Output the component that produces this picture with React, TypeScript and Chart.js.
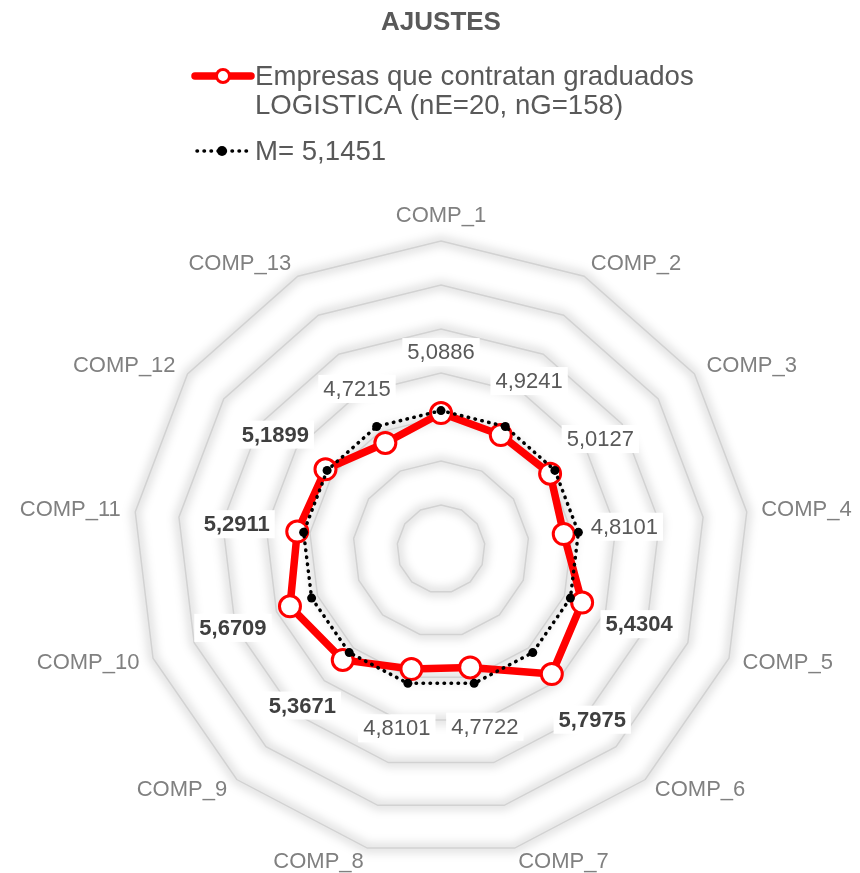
import React, { useEffect, useRef } from 'react';
import { Chart, registerables } from 'chart.js';

Chart.register(...registerables);

// ---------- data ----------
const titleText = 'AJUSTES';
const categories = [
  'COMP_1', 'COMP_2', 'COMP_3', 'COMP_4', 'COMP_5', 'COMP_6', 'COMP_7',
  'COMP_8', 'COMP_9', 'COMP_10', 'COMP_11', 'COMP_12', 'COMP_13',
];
const companySeriesLines = ['Empresas que contratan graduados', 'LOGISTICA (nE=20, nG=158)'];
const companyValues = [
  5.0886, 4.9241, 5.0127, 4.8101, 5.4304, 5.7975, 4.7722,
  4.8101, 5.3671, 5.6709, 5.2911, 5.1899, 4.7215,
];
const meanLabel = 'M= 5,1451';
const meanReference = 5.1451;
const meanValues = [
  5.1451, 5.1451, 5.1451, 5.1451, 5.1451, 5.1451, 5.1451,
  5.1451, 5.1451, 5.1451, 5.1451, 5.1451, 5.1451,
];
const scaleMin = 2;
const scaleMax = 9;
const scaleStep = 1;

// ---------- styling ----------
const FONT = "'Liberation Sans', Arial, Helvetica, sans-serif";
const RED = '#ff0000';
const TEXT_GRAY = '#595959';
const TEXT_DARK = '#3f3f3f';
const LABEL_GRAY = '#808080';

const fmt = (v: number) => v.toFixed(4).replace('.', ',');

const ringGlowPlugin = {
  id: 'ringGlow',
  beforeDraw(chart: any) {
    const scale = chart.scales.r;
    if (!scale) return;
    const ctx = chart.ctx;
    const n = chart.data.labels.length;
    ctx.save();
    ctx.filter = 'blur(5px)';
    ctx.strokeStyle = 'rgba(0,0,0,0.13)';
    ctx.lineWidth = 9;
    ctx.lineJoin = 'round';
    scale.ticks.forEach((t: any, idx: number) => {
      if (idx === 0) return;
      ctx.beginPath();
      for (let i = 0; i < n; i++) {
        const p = scale.getPointPositionForValue(i, t.value);
        if (i === 0) ctx.moveTo(p.x, p.y);
        else ctx.lineTo(p.x, p.y);
      }
      ctx.closePath();
      ctx.stroke();
    });
    ctx.restore();
  },
};

const labelsPlugin = {
  id: 'customLabels',
  afterDatasetsDraw(chart: any) {
    const scale = chart.scales.r;
    const ctx = chart.ctx;
    const n = chart.data.labels.length;
    ctx.save();
    // category labels
    ctx.font = `22px ${FONT}`;
    ctx.fillStyle = LABEL_GRAY;
    for (let i = 0; i < n; i++) {
      const p = scale.getPointPosition(i, scale.drawingArea + 14.5);
      const deg = Math.round((scale.getIndexAngle(i) * 180) / Math.PI) % 360;
      let align: CanvasTextAlign = 'center';
      if (deg !== 0 && deg !== 180) align = deg < 180 ? 'left' : 'right';
      let base: CanvasTextBaseline = 'middle';
      if (deg === 0) base = 'bottom';
      if (deg === 180) base = 'top';
      ctx.textAlign = align;
      ctx.textBaseline = base;
      ctx.fillText(chart.data.labels[i], p.x, p.y);
    }
    // value labels for company series
    const values = chart.data.datasets[0].data as number[];
    ctx.textAlign = 'center';
    ctx.textBaseline = 'middle';
    for (let i = 0; i < n; i++) {
      const v = values[i];
      const bold = v > meanReference;
      ctx.font = `${bold ? 'bold ' : ''}22px ${FONT}`;
      const txt = fmt(v);
      const w = ctx.measureText(txt).width;
      const r = scale.getDistanceFromCenterForValue(v) + 61;
      const p = scale.getPointPosition(i, r);
      ctx.fillStyle = '#ffffff';
      ctx.fillRect(p.x - w / 2 - 5, p.y - 14, w + 10, 28);
      ctx.fillStyle = bold ? TEXT_DARK : TEXT_GRAY;
      ctx.fillText(txt, p.x, p.y + 1);
    }
    ctx.restore();
  },
  afterDraw(chart: any) {
    const ctx = chart.ctx;
    ctx.save();
    // company legend entry
    ctx.strokeStyle = RED;
    ctx.lineWidth = 7.5;
    ctx.lineCap = 'round';
    ctx.beginPath();
    ctx.moveTo(195, 76);
    ctx.lineTo(251, 76);
    ctx.stroke();
    ctx.beginPath();
    ctx.arc(223, 76, 6.5, 0, Math.PI * 2);
    ctx.fillStyle = '#ffffff';
    ctx.fill();
    ctx.lineWidth = 3;
    ctx.stroke();
    ctx.font = `27.6px ${FONT}`;
    ctx.fillStyle = TEXT_GRAY;
    ctx.textAlign = 'left';
    ctx.textBaseline = 'alphabetic';
    ctx.fillText(companySeriesLines[0], 255, 85);
    ctx.fillText(companySeriesLines[1], 255, 114);
    // mean legend entry
    ctx.strokeStyle = '#000000';
    ctx.lineWidth = 3.5;
    ctx.lineCap = 'round';
    ctx.setLineDash([0.5, 6.5]);
    ctx.beginPath();
    ctx.moveTo(197, 151);
    ctx.lineTo(249, 151);
    ctx.stroke();
    ctx.setLineDash([]);
    ctx.beginPath();
    ctx.arc(222, 151, 5, 0, Math.PI * 2);
    ctx.fillStyle = '#000000';
    ctx.fill();
    ctx.fillStyle = TEXT_GRAY;
    ctx.fillText(meanLabel, 255, 160);
    ctx.restore();
  },
};

export default function App() {
  const canvasRef = useRef<HTMLCanvasElement | null>(null);

  useEffect(() => {
    if (!canvasRef.current) return;
    const chart = new Chart(canvasRef.current, {
      type: 'radar',
      data: {
        labels: categories,
        datasets: [
          {
            label: companySeriesLines.join(' '),
            data: companyValues,
            borderColor: RED,
            borderWidth: 7.5,
            borderJoinStyle: 'round',
            pointRadius: 10.5,
            pointHoverRadius: 10.5,
            pointBorderWidth: 3,
            pointBackgroundColor: '#ffffff',
            pointBorderColor: RED,
            fill: false,
            order: 1,
          },
          {
            label: meanLabel,
            data: meanValues,
            borderColor: '#000000',
            borderWidth: 3.5,
            borderDash: [0.5, 6.5],
            borderCapStyle: 'round',
            pointRadius: 4.5,
            pointHoverRadius: 4.5,
            pointBorderWidth: 0,
            pointBackgroundColor: '#000000',
            fill: false,
            order: 0,
          },
        ],
      },
      options: {
        responsive: true,
        maintainAspectRatio: false,
        animation: false,
        devicePixelRatio: 1,
        layout: { padding: { left: 132, right: 110, top: 0, bottom: 15 } },
        elements: { line: { tension: 0 } },
        scales: {
          r: {
            min: scaleMin,
            max: scaleMax,
            startAngle: 0,
            ticks: { display: false, stepSize: scaleStep },
            grid: { color: '#d2d2d2', lineWidth: 1.5 },
            angleLines: { display: false },
            pointLabels: { display: false },
          },
        },
        plugins: {
          legend: { display: false },
          tooltip: { enabled: false },
          title: {
            display: true,
            text: titleText,
            color: TEXT_GRAY,
            font: { family: FONT, size: 26, weight: 'bold', lineHeight: 1.2 },
            padding: { top: 7, bottom: 202 },
          },
        },
      },
      plugins: [ringGlowPlugin, labelsPlugin],
    } as any);
    return () => chart.destroy();
  }, []);

  return (
    <div style={{ position: 'absolute', left: 0, top: 0, width: 860, height: 873, background: '#ffffff' }}>
      <canvas ref={canvasRef} />
    </div>
  );
}
